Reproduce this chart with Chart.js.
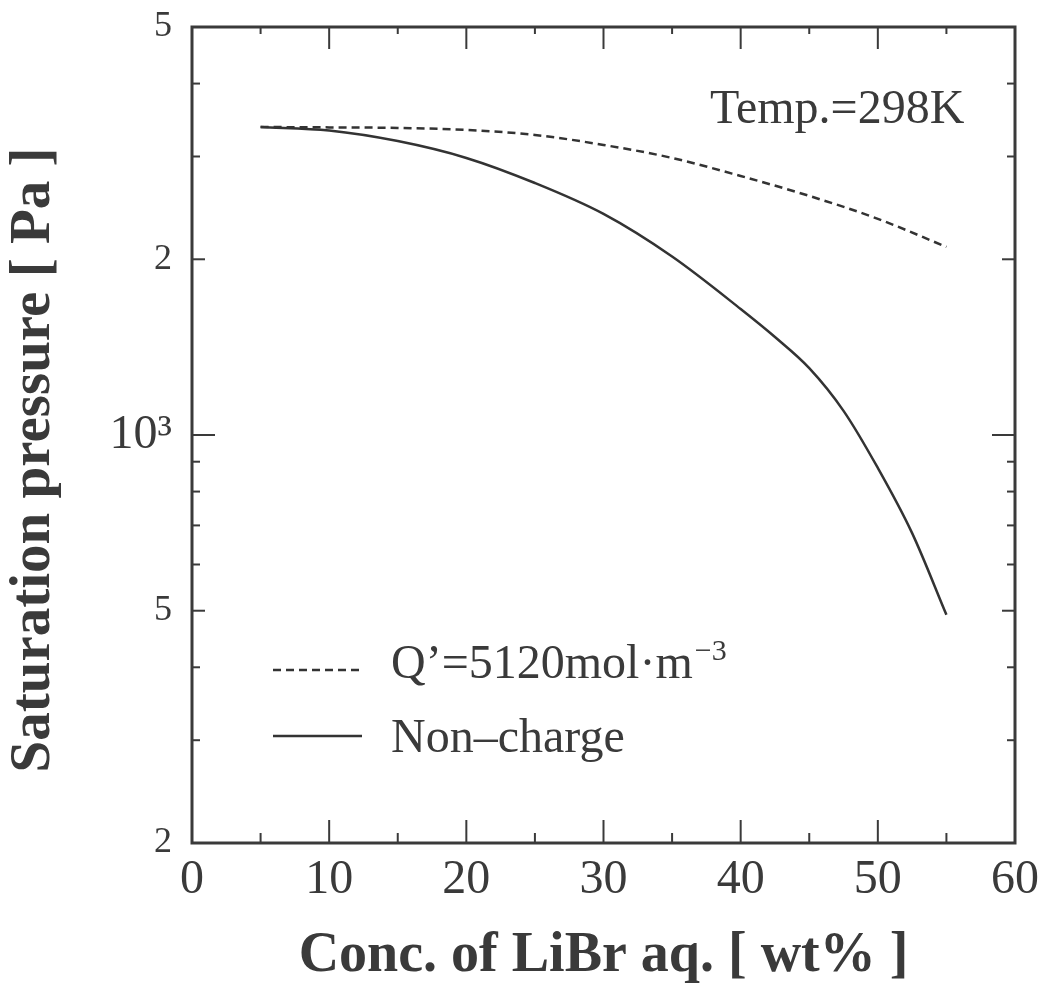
<!DOCTYPE html>
<html>
<head>
<meta charset="utf-8">
<title>Saturation pressure vs LiBr concentration</title>
<script src="https://cdn.jsdelivr.net/npm/chart.js@4.4.1/dist/chart.umd.min.js"></script>
<style>
  html, body { margin: 0; padding: 0; background: #fff; }
  #wrap { width: 1043px; height: 990px; }
</style>
</head>
<body>
<div id="wrap"><canvas id="pressureChart" width="1043" height="990"></canvas></div>
<script>
// concentration of LiBr [wt%] and saturation pressure [Pa]
const concCharged = [5, 10, 15, 20, 25, 30, 35, 40, 45, 50, 55];
const pressCharged = [3370, 3365, 3358, 3331, 3266, 3140, 2983, 2778, 2568, 2346, 2100];

const concNeutral = [5, 10, 15, 20, 25, 30, 35, 40, 42.5, 45, 47.5, 50, 52.5, 55];
const pressNeutral = [3370, 3324, 3188, 2983, 2702, 2392, 2022, 1644, 1472, 1302, 1100, 878, 679, 492];

const seriesNames = ["Q\u2019=5120mol\u00b7m", "Non\u2013charge"];
const tempNote = "Temp.=298K";

// axis ticks
const xTickValues = [0, 10, 20, 30, 40, 50, 60];
const xMajor = [10, 20, 30, 40, 50];
const xMinor = [5, 15, 25, 35, 45, 55];

const yTickValues = [5000, 2000, 1000, 500, 200];
const yTickLabels = ["5", "2", "10\u00b3", "5", "2"];
const yLong = [1000];
const yMid = [2000, 500];
const yMinor = [4000, 3000, 900, 800, 700, 600, 400, 300];

const ink = "#3a3a3a";
const serif = "'Liberation Serif', 'Times New Roman', serif";

function toPoints(xs, ys) {
  return xs.map((v, i) => ({ x: v, y: ys[i] }));
}

const framePlugin = {
  id: "frame",
  afterDatasetsDraw(chart) {
    const { ctx, chartArea: a, scales } = chart;
    const x = scales.x;
    const y = scales.y;

    ctx.save();
    ctx.strokeStyle = ink;
    ctx.lineCap = "butt";

    const seg = (x1, y1, x2, y2) => {
      ctx.beginPath();
      ctx.moveTo(x1, y1);
      ctx.lineTo(x2, y2);
      ctx.stroke();
    };

    // inner ticks
    ctx.lineWidth = 2;
    xMajor.forEach(v => {
      const px = x.getPixelForValue(v);
      seg(px, a.bottom, px, a.bottom - 23);
      seg(px, a.top, px, a.top + 22);
    });
    xMinor.forEach(v => {
      const px = x.getPixelForValue(v);
      seg(px, a.bottom, px, a.bottom - 10);
      seg(px, a.top, px, a.top + 7);
    });
    const yTick = (v, len) => {
      const py = y.getPixelForValue(v);
      seg(a.left, py, a.left + len, py);
      seg(a.right, py, a.right - len, py);
    };
    yLong.forEach(v => yTick(v, 23));
    yMid.forEach(v => yTick(v, 13));
    yMinor.forEach(v => yTick(v, 8));

    // box
    ctx.lineWidth = 3;
    ctx.strokeRect(a.left, a.top, a.right - a.left, a.bottom - a.top);

    // annotation
    ctx.fillStyle = ink;
    ctx.textBaseline = "alphabetic";
    ctx.textAlign = "left";
    ctx.font = "48px " + serif;
    ctx.fillText(tempNote, 710, 123);

    // legend
    const rows = [678, 752];
    const lineY = [670, 736];
    chart.data.datasets.forEach((ds, i) => {
      ctx.save();
      ctx.strokeStyle = ds.borderColor;
      ctx.lineWidth = ds.borderWidth;
      ctx.setLineDash(ds.borderDash || []);
      seg(273, lineY[i], 362, lineY[i]);
      ctx.restore();
      ctx.font = "48px " + serif;
      ctx.fillText(seriesNames[i], 391, rows[i]);
      if (i === 0) {
        const w = ctx.measureText(seriesNames[i]).width;
        ctx.font = "30px " + serif;
        ctx.fillText("\u22123", 391 + w + 2, rows[i] - 18);
      }
    });

    // y axis title
    ctx.save();
    ctx.translate(34, 460);
    ctx.rotate(-Math.PI / 2);
    ctx.textAlign = "center";
    ctx.textBaseline = "middle";
    ctx.font = "bold 57px " + serif;
    ctx.fillText("Saturation pressure [ Pa ]", 0, 0);
    ctx.restore();

    ctx.restore();
  }
};

const ctx = document.getElementById("pressureChart").getContext("2d");

new Chart(ctx, {
  type: "line",
  data: {
    datasets: [
      {
        label: seriesNames[0],
        data: toPoints(concCharged, pressCharged),
        borderColor: "#333",
        borderWidth: 2.5,
        borderDash: [8, 5],
        pointRadius: 0,
        fill: false,
        cubicInterpolationMode: "monotone"
      },
      {
        label: seriesNames[1],
        data: toPoints(concNeutral, pressNeutral),
        borderColor: "#333",
        borderWidth: 2.5,
        pointRadius: 0,
        fill: false,
        cubicInterpolationMode: "monotone"
      }
    ]
  },
  options: {
    responsive: false,
    animation: false,
    devicePixelRatio: 1,
    layout: { padding: { left: 0, top: 27, right: 28, bottom: 0 } },
    plugins: {
      legend: { display: false },
      tooltip: { enabled: false }
    },
    scales: {
      x: {
        type: "linear",
        min: 0,
        max: 60,
        afterBuildTicks: (scale) => {
          scale.ticks = xTickValues.map(v => ({ value: v }));
        },
        afterFit: (scale) => {
          scale.height = 147;
          scale.paddingLeft = 0;
          scale.paddingRight = 0;
        },
        grid: { display: false, drawTicks: false },
        border: { display: false },
        ticks: {
          color: ink,
          padding: 9,
          maxRotation: 0,
          autoSkip: false,
          font: { family: serif, size: 48 }
        },
        title: {
          display: true,
          text: "Conc. of LiBr aq. [ wt% ]",
          color: ink,
          font: { family: serif, size: 56, weight: "bold" },
          padding: { top: 0, bottom: 0 }
        }
      },
      y: {
        type: "logarithmic",
        min: 200,
        max: 5000,
        afterBuildTicks: (scale) => {
          scale.ticks = yTickValues.map(v => ({ value: v }));
        },
        afterFit: (scale) => {
          scale.width = 192;
          scale.paddingTop = 0;
          scale.paddingBottom = 0;
        },
        grid: { display: false, drawTicks: false },
        border: { display: false },
        ticks: {
          color: ink,
          padding: 20,
          autoSkip: false,
          callback: (value) => {
            const i = yTickValues.indexOf(value);
            return i >= 0 ? yTickLabels[i] : "";
          },
          font: (c) => ({
            family: serif,
            size: c.tick && c.tick.value === 1000 ? 48 : 36
          })
        }
      }
    }
  },
  plugins: [framePlugin]
});
</script>
</body>
</html>
